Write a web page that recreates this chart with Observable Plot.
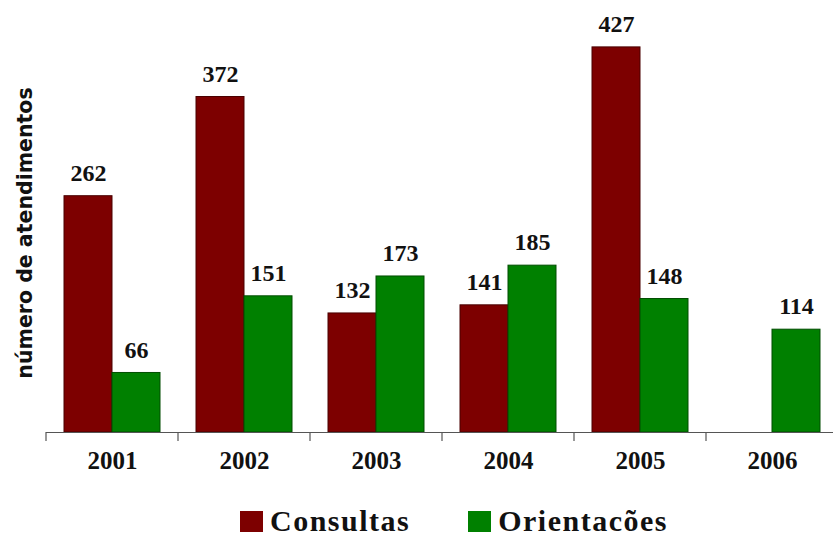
<!DOCTYPE html>
<html><head><meta charset="utf-8">
<script src="https://cdn.jsdelivr.net/npm/d3@7"></script>
<script src="https://cdn.jsdelivr.net/npm/@observablehq/plot@0.6"></script>
<style>
body{margin:0;background:#fff;}
#wrap{position:relative;width:833px;height:538px;overflow:hidden;background:#fff;}
#ylabel{position:absolute;left:25px;top:233px;transform:translate(-50%,-50%) rotate(-90deg);font:bold 20.5px "DejaVu Sans";white-space:nowrap;color:#111}
#legend{position:absolute;top:506px;left:240px;height:30px;line-height:30px;display:flex;align-items:center;font:bold 30px "Liberation Serif";letter-spacing:1.5px;color:#111;white-space:nowrap}
.sw{display:inline-block;width:23px;height:21px;margin-right:7px}
</style></head><body><div id="wrap">
<div id="chart"></div>
<div id="ylabel">número de atendimentos</div>
<div id="legend"><span class="sw" id="sw0"></span><span id="lg0"></span><span class="sw" id="sw1" style="margin-left:58px"></span><span id="lg1"></span></div>
</div>
<script>
const years = ["2001", "2002", "2003", "2004", "2005", "2006"];
const series = ["Consultas", "Orientacões"];
const consultas = [262, 372, 132, 141, 427, null];
const orientacoes = [66, 151, 173, 185, 148, 114];
const fills = ["#7d0000", "#008000"];
const strokes = ["#4a0000", "#004d00"];

const rows = s => years.map((y, i) => ({year: y, series: series[s], value: [consultas, orientacoes][s][i]})).filter(d => d.value != null);
const tConsultas = rows(0);
const tOrient = rows(1);
const table = tConsultas.concat(tOrient);

const chart = Plot.plot({
  width: 833, height: 495,
  marginLeft: 44, marginRight: -6, marginTop: 0, marginBottom: 63,
  fx: {domain: years, padding: 0, axis: null, label: null},
  x: {domain: series, paddingInner: 0, paddingOuter: 0.352, axis: null},
  y: {domain: [0, 479], axis: null},
  style: {fontFamily: "Liberation Serif", background: "white", overflow: "visible"},
  marks: [
    Plot.barY(tConsultas, {fx: "year", x: "series", y: "value", fill: fills[0], stroke: strokes[0], strokeWidth: 1}),
    Plot.barY(tOrient, {fx: "year", x: "series", y: "value", fill: fills[1], stroke: strokes[1], strokeWidth: 1}),
    Plot.text(table, {fx: "year", x: "series", y: "value", text: d => String(d.value), dy: -23, fontSize: 24, fontWeight: "bold", fill: "#111"}),
    Plot.ruleY([0], {stroke: "#555", strokeWidth: 1.2}),
    Plot.text(years, {fx: d => d, text: d => d, frameAnchor: "bottom", dy: 36, fontSize: 25, fontWeight: "bold", fill: "#111"})
  ]
});
document.getElementById("chart").appendChild(chart);

try {
  const fx = chart.scale("fx");
  const y = chart.scale("y");
  const y0 = y.apply(0);
  const edges = years.map(v => fx.apply(v)).concat([fx.apply(years[years.length - 1]) + fx.bandwidth]);
  d3.select(chart).append("g").selectAll("line").data(edges).join("line")
    .attr("x1", d => d).attr("x2", d => d)
    .attr("y1", y0).attr("y2", y0 + 9)
    .attr("stroke", "#555").attr("stroke-width", 1.2);
} catch (e) { console.error(e); }

series.forEach((s, i) => {
  document.getElementById("sw" + i).style.background = fills[i];
  document.getElementById("lg" + i).textContent = s;
});
</script>
</body></html>
